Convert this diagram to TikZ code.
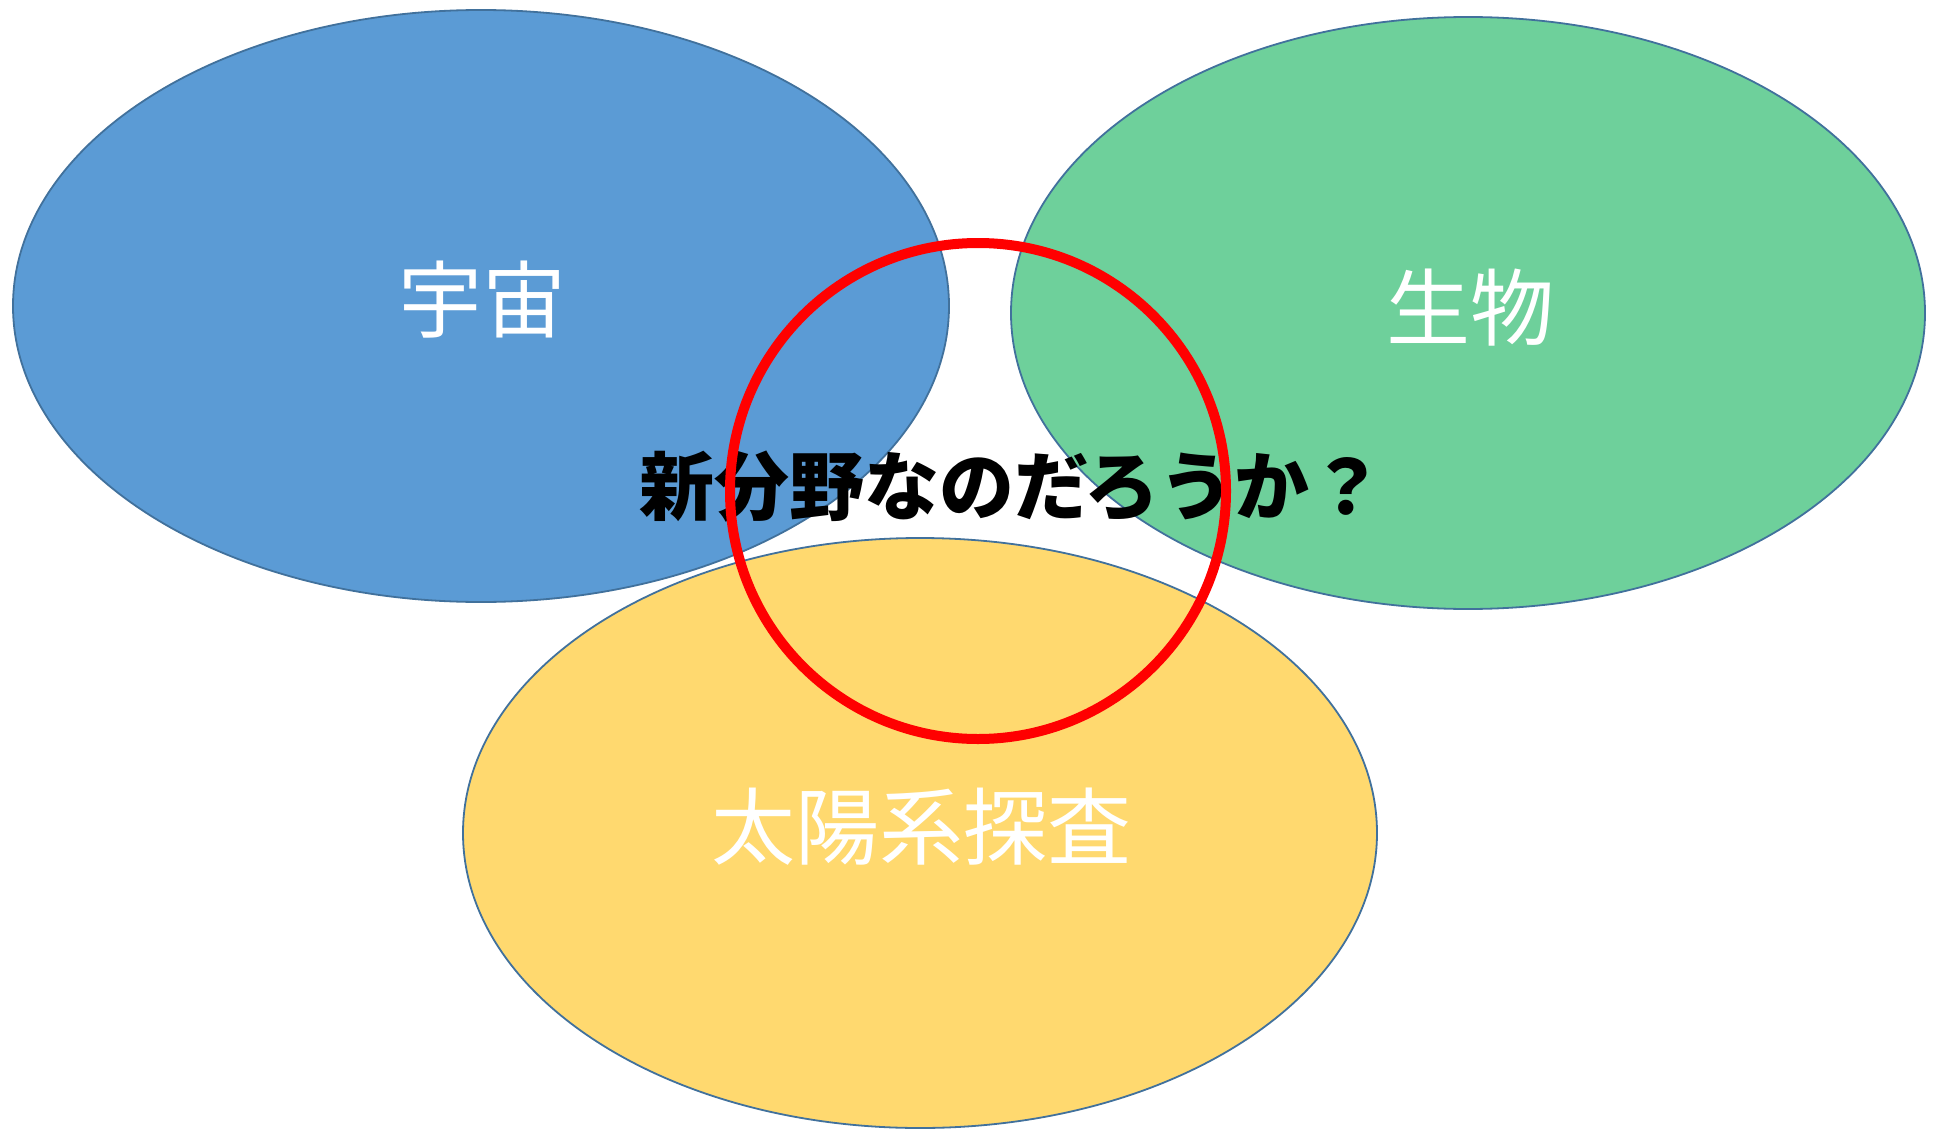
\documentclass[tikz,border=0pt]{standalone}
\usepackage{fontspec}
\newfontfamily\cjk{Noto Sans CJK JP}
\usetikzlibrary{shapes.geometric}
\definecolor{cblue}{RGB}{91,155,213}
\definecolor{cgreen}{RGB}{110,208,155}
\definecolor{cyellow}{RGB}{255,217,111}
\definecolor{cedge}{RGB}{65,113,156}
\begin{document}
\begin{tikzpicture}[x=1pt,y=-1pt,
  area/.style={ellipse, draw=cedge, line width=1.8pt, inner sep=0pt},
  lbl/.style={text=white, font=\cjk\fontsize{84}{94}\selectfont, inner sep=0pt},
  ring/.style={circle, draw=red, line width=10pt, inner sep=0pt, minimum size=496pt}]
\useasboundingbox[fill=white] (0,0) rectangle (1933,1129);
\node[area, fill=cblue, minimum width=936pt, minimum height=592pt] (uchu) at (481,306) {};
\node[area, fill=cgreen, minimum width=914pt, minimum height=592pt] (seibutsu) at (1468,313) {};
\node[area, fill=cyellow, minimum width=914pt, minimum height=590pt] (taiyo) at (920,833) {};
\node[lbl] (uchulbl) at (482,300) {宇宙};
\node[lbl] (seibutsulbl) at (1470,308) {生物};
\node[lbl] (taiyolbl) at (921,827) {太陽系探査};
\node[inner sep=0pt, font=\cjk\bfseries\fontsize{75}{84}\selectfont] (q) at (1012,487) {新分野なのだろうか？};
\node[ring] (circ) at (978,491) {};
\end{tikzpicture}
\end{document}
